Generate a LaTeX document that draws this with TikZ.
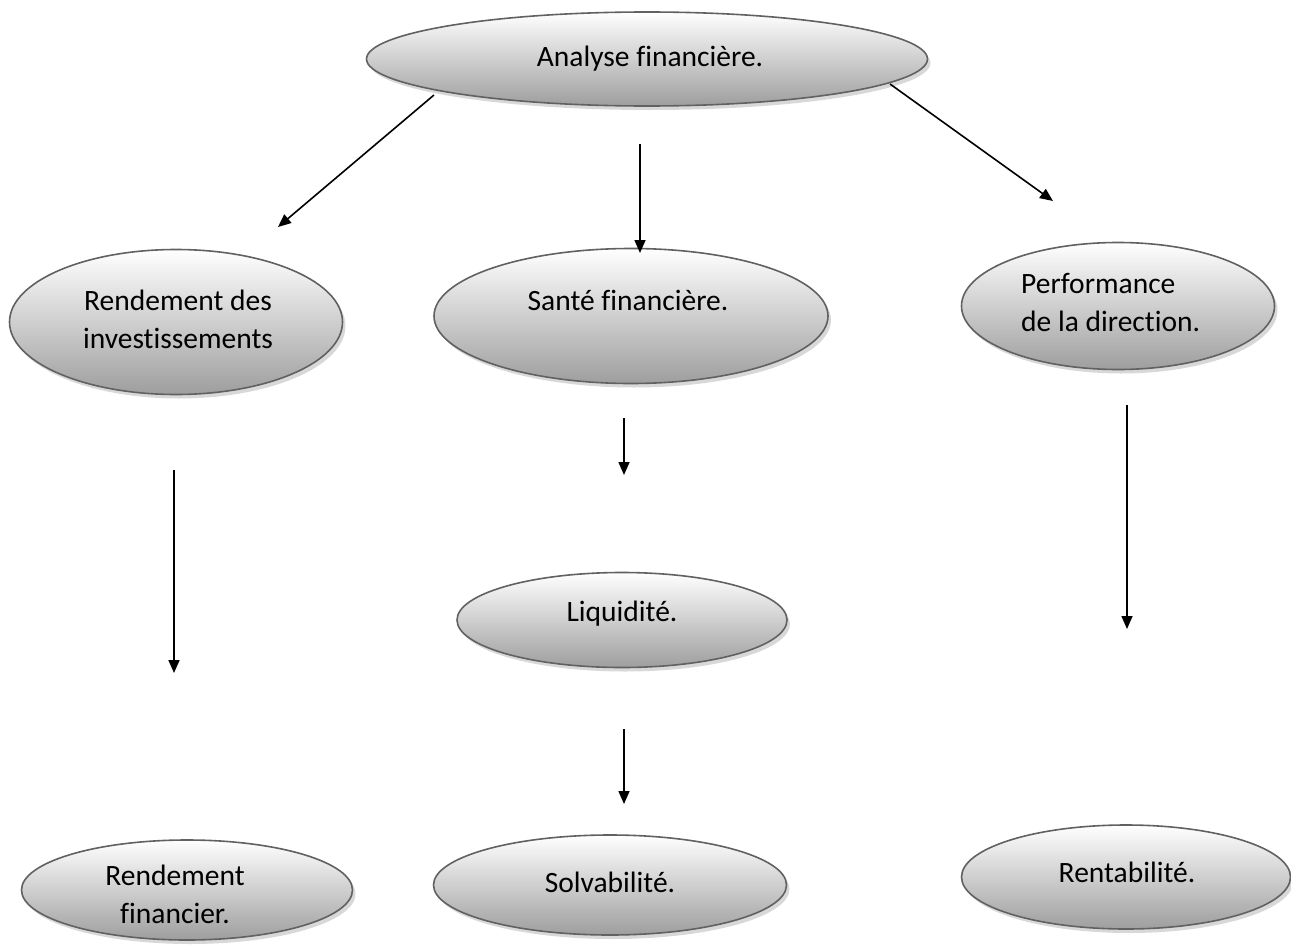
\documentclass[tikz,border=0pt]{standalone}
\usepackage{fontspec}
\setmainfont{Carlito}[Ligatures=NoCommon]
\usetikzlibrary{shapes.geometric,shadows,arrows.meta}
\tikzset{
  bubble/.style={ellipse, draw=black!62, line width=1.6pt, inner sep=0pt,
    top color=white, bottom color=black!38,
    drop shadow={shadow xshift=3pt, shadow yshift=-4pt, fill=black!30, opacity=0.5}},
  lbl/.style={font=\fontsize{29.5}{38}\selectfont, align=center, inner sep=0pt},
  arr/.style={line width=1.6pt, -{Triangle[length=13pt,width=11pt]}}
}
\begin{document}
\begin{tikzpicture}[x=1pt,y=-1pt]
\useasboundingbox (0,0) rectangle (1291,945);
% ellipses
\node[bubble, minimum width=561pt, minimum height=94pt] (top) at (647,59) {};
\node[bubble, minimum width=333pt, minimum height=145pt] (rinv) at (176,322) {};
\node[bubble, minimum width=394pt, minimum height=135pt] (sante) at (631,316) {};
\node[bubble, minimum width=313pt, minimum height=127pt] (perf) at (1118,306) {};
\node[bubble, minimum width=330pt, minimum height=95pt] (liq) at (622,620) {};
\node[bubble, minimum width=331pt, minimum height=100pt] (rfin) at (187,890) {};
\node[bubble, minimum width=353pt, minimum height=100pt] (solv) at (610,885) {};
\node[bubble, minimum width=329pt, minimum height=104pt] (rent) at (1126,877) {};
% texts
\node[lbl] (ttop) at (650,59) {Analyse financière.};
\node[lbl] (trinv) at (178,319) {Rendement des\\investissements};
\node[lbl] (tsante) at (628,300) {Santé financière.};
\node[lbl, align=left, anchor=west] (tperf) at (1021,302) {Performance\\de la direction.};
\node[lbl] (tliq) at (622,614) {Liquidité.};
\node[lbl] (trfin) at (175,894) {Rendement\\financier.};
\node[lbl] (tsolv) at (610,882) {Solvabilité.};
\node[lbl] (trent) at (1127,872) {Rentabilité.};
% arrow endpoints
\coordinate (a1s) at (434,95);  \coordinate (a1e) at (278,227);
\coordinate (a2s) at (640,144); \coordinate (a2e) at (640,253);
\coordinate (a3s) at (890,84);  \coordinate (a3e) at (1053,201);
\coordinate (a4s) at (174,470); \coordinate (a4e) at (174,673);
\coordinate (a5s) at (624,418); \coordinate (a5e) at (624,475);
\coordinate (a6s) at (1127,405);\coordinate (a6e) at (1127,629);
\coordinate (a7s) at (624,729); \coordinate (a7e) at (624,804);
\draw[arr] (a1s) -- (a1e);
\draw[arr] (a2s) -- (a2e);
\draw[arr] (a3s) -- (a3e);
\draw[arr] (a4s) -- (a4e);
\draw[arr] (a5s) -- (a5e);
\draw[arr] (a6s) -- (a6e);
\draw[arr] (a7s) -- (a7e);
\end{tikzpicture}
\end{document}
